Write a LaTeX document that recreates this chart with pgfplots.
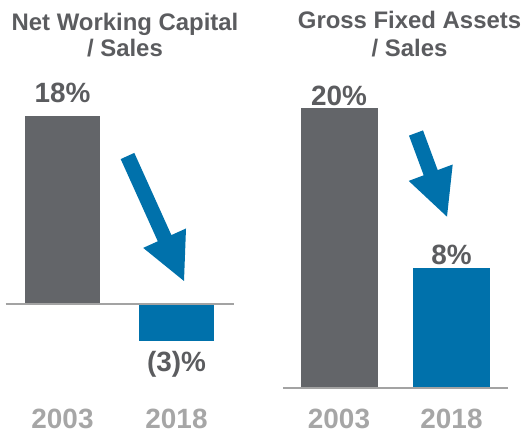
\documentclass[border=0pt]{standalone}
\usepackage{pgfplots}
\pgfplotsset{compat=1.18}
\usepackage{fontspec}
\setmainfont{Liberation Sans}
\definecolor{bargray}{HTML}{636569}
\definecolor{barblue}{HTML}{0071AB}
\definecolor{txtgray}{HTML}{5B5C5F}
\definecolor{yeargray}{HTML}{A6A6A6}
\definecolor{basegray}{HTML}{A3A3A3}
\begin{document}
\begin{tikzpicture}
\useasboundingbox (0,0) rectangle (524bp,435bp);
\tikzset{
  ttl/.style={anchor=base, text=txtgray, font=\fontsize{24}{27}\selectfont\bfseries},
  val/.style={anchor=base, text=txtgray, font=\fontsize{28}{30}\selectfont\bfseries},
  yr/.style={anchor=base, text=yeargray, font=\fontsize{28}{30}\selectfont\bfseries},
}
% Left panel: Net Working Capital / Sales
\begin{axis}[at={(5.5bp,89.2bp)}, anchor=south west, scale only axis,
  width=228bp, height=229.8bp, xmin=-0.5, xmax=1.5, ymin=-4, ymax=18,
  hide axis, clip=false, ybar, bar width=75bp, bar shift=0pt]
  \addplot[fill=bargray, draw=none] coordinates {(0,18)};
  \addplot[fill=barblue, draw=none] coordinates {(1,-3.5)};
  \draw[basegray, line width=1.5bp] (axis cs:-0.5,0) -- (axis cs:1.5,0);
  \node[val] at (axis cs:0,19.25) {18\%};
  \node[val] at (axis cs:1,-6.5) {(3)\%};
  \node[yr] at (axis cs:0,-11.95) {2003};
  \node[yr] at (axis cs:1,-11.95) {2018};
  \node[ttl] at (axis cs:0.548,26.23) {Net Working Capital};
  \node[ttl] at (axis cs:0.548,23.65) {/ Sales};
\end{axis}
% Right panel: Gross Fixed Assets / Sales
\begin{axis}[at={(282.75bp,47bp)}, anchor=south west, scale only axis,
  width=225bp, height=280bp, xmin=-0.5, xmax=1.5, ymin=0, ymax=20,
  hide axis, clip=false, ybar, bar width=77bp, bar shift=0pt]
  \addplot[fill=bargray, draw=none] coordinates {(0,20)};
  \addplot[fill=barblue, draw=none] coordinates {(1,8.6)};
  \draw[basegray, line width=1.5bp] (axis cs:-0.5,0) -- (axis cs:1.5,0);
  \node[val] at (axis cs:0,20.2) {20\%};
  \node[val] at (axis cs:1,8.79) {8\%};
  \node[yr] at (axis cs:0,-2.9) {2003};
  \node[yr] at (axis cs:1,-2.9) {2018};
  \node[ttl] at (axis cs:0.627,25.7) {Gross Fixed Assets};
  \node[ttl] at (axis cs:0.627,23.66) {/ Sales};
\end{axis}
% Arrows (decorative)
\begin{scope}[x=1bp, y=-1bp, shift={(0,435bp)}]
  \fill[barblue] (120.7,159.1) -- (134.3,152.9) -- (171.4,235.1) -- (186.0,228.5)
     -- (184,281) -- (143.2,247.9) -- (157.8,241.3) -- cycle;
  \fill[barblue] (409.0,135.6) -- (423.0,130.4) -- (437.7,170.1) -- (452.7,164.5)
     -- (447,216.7) -- (408.7,180.9) -- (423.7,175.3) -- cycle;
\end{scope}
\end{tikzpicture}
\end{document}
